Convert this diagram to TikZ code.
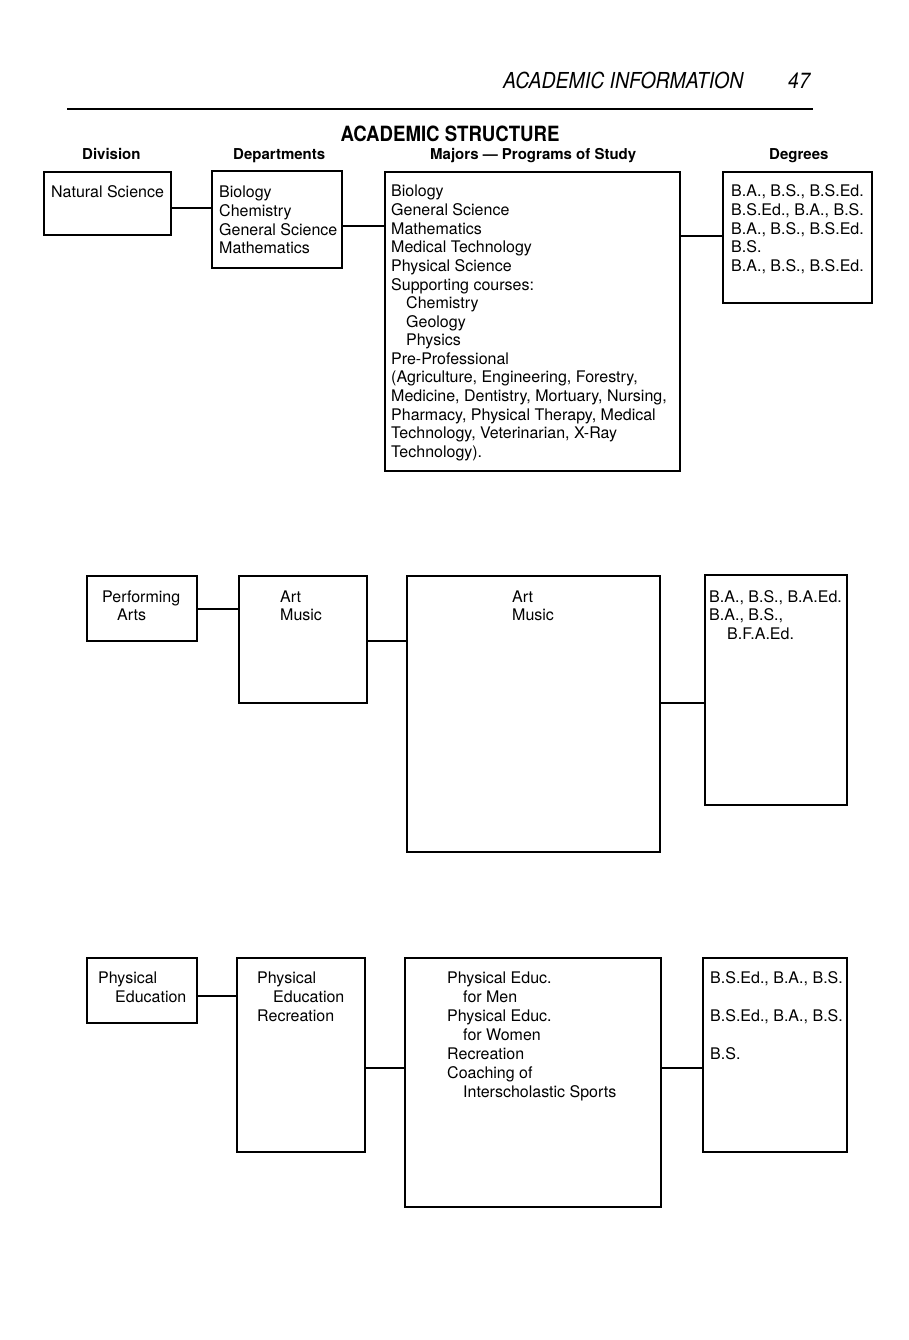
\documentclass[tikz,border=0pt]{standalone}
\usepackage{fontspec}
\setmainfont{TeX Gyre Heros}
\newfontfamily\hdrfont[FakeStretch=0.885]{TeX Gyre Heros}
\newfontfamily\ttlfont[FakeStretch=0.887]{TeX Gyre Heros}
\newcommand\stk[2]{\vtop{\baselineskip=#1pt\lineskip=0pt\lineskiplimit=-20pt\halign{##\hfil\cr#2\crcr}}}
\begin{document}
\begin{tikzpicture}[x=1pt,y=-1pt,
  box/.style={draw, line width=2.2pt, inner sep=0pt, outer sep=0pt, anchor=north west},
  conn/.style={line width=2.2pt},
  txt/.style={anchor=base west, inner sep=0pt, font=\fontsize{16}{18.6}\selectfont},
  sub/.style={anchor=base west, inner sep=0pt, font=\fontsize{15}{18}\selectfont\bfseries}]
\fill[white] (0,0) rectangle (908,1340);
\useasboundingbox (0,0) rectangle (908,1340);

% page header
\node[anchor=base west, inner sep=0pt, font=\hdrfont\itshape\fontsize{22}{26}\selectfont] (hdr) at (503,89) {ACADEMIC INFORMATION};
\node[anchor=base west, inner sep=0pt, font=\hdrfont\itshape\fontsize{22}{26}\selectfont] (pg) at (788,89) {47};
\coordinate (rl) at (67,109);
\coordinate (rr) at (813,109);
\draw[line width=1.5pt] (rl) -- (rr);

% titles
\node[anchor=base, inner sep=0pt, font=\ttlfont\bfseries\fontsize{21}{24}\selectfont] (title) at (450,142) {ACADEMIC STRUCTURE};
\node[sub] (hdiv) at (82,160) {Division};
\node[sub] (hdep) at (233,160) {Departments};
\node[sub] (hmaj) at (430,160) {Majors — Programs of Study};
\node[sub] (hdeg) at (769,160) {Degrees};

% row 1 boxes
\node[box, minimum width=127pt, minimum height=63pt] (ns) at (44,172) {};
\node[box, minimum width=130pt, minimum height=97pt] (d1) at (212,171) {};
\node[box, minimum width=295pt, minimum height=299pt] (m1) at (385,172) {};
\node[box, minimum width=149pt, minimum height=131pt] (g1) at (723,172) {};

% row 2 boxes
\node[box, minimum width=110pt, minimum height=65pt] (pa) at (87,576) {};
\node[box, minimum width=128pt, minimum height=127pt] (d2) at (239,576) {};
\node[box, minimum width=253pt, minimum height=276pt] (m2) at (407,576) {};
\node[box, minimum width=142pt, minimum height=230pt] (g2) at (705,575) {};

% row 3 boxes
\node[box, minimum width=110pt, minimum height=65pt] (pe) at (87,958) {};
\node[box, minimum width=128pt, minimum height=194pt] (d3) at (237,958) {};
\node[box, minimum width=256pt, minimum height=249pt] (m3) at (405,958) {};
\node[box, minimum width=144pt, minimum height=194pt] (g3) at (703,958) {};

% row 1 texts
\node[txt] (tns) at (51,198) {Natural Science};
\node[txt] (td1) at (219,198) {\stk{18.6}{Biology\cr Chemistry\cr General Science\cr Mathematics}};
\node[txt] (tm1) at (391,197) {\stk{18.6}{Biology\cr General Science\cr Mathematics\cr Medical Technology\cr Physical Science\cr Supporting courses:\cr\hskip15pt Chemistry\cr\hskip15pt Geology\cr\hskip15pt Physics\cr Pre-Professional\cr (Agriculture, Engineering, Forestry,\cr Medicine, Dentistry, Mortuary, Nursing,\cr Pharmacy, Physical Therapy, Medical\cr Technology, Veterinarian, X-Ray\cr Technology).}};
\node[txt] (tg1) at (731,197) {\stk{18.6}{B.A., B.S., B.S.Ed.\cr B.S.Ed., B.A., B.S.\cr B.A., B.S., B.S.Ed.\cr B.S.\cr B.A., B.S., B.S.Ed.}};

% row 2 texts
\node[txt] (tpa) at (102,602) {\stk{18.5}{Performing\cr\hskip15pt Arts}};
\node[txt] (td2) at (280,602) {\stk{18.5}{Art\cr Music}};
\node[txt] (tm2) at (512,602) {\stk{18.5}{Art\cr Music}};
\node[txt] (tg2) at (709,602) {\stk{18.5}{B.A., B.S., B.A.Ed.\cr B.A., B.S.,\cr\hskip18pt B.F.A.Ed.}};

% row 3 texts
\node[txt] (tpe) at (98,983) {\stk{19}{Physical\cr\hskip17pt Education}};
\node[txt] (td3) at (257,983) {\stk{19}{Physical\cr\hskip16pt Education\cr Recreation}};
\node[txt] (tm3) at (447,983) {\stk{19}{Physical Educ.\cr\hskip16pt for Men\cr Physical Educ.\cr\hskip16pt for Women\cr Recreation\cr Coaching of\cr\hskip16pt Interscholastic Sports}};
\node[txt] (tg3) at (710,983) {\stk{19}{B.S.Ed., B.A., B.S.\cr\cr B.S.Ed., B.A., B.S.\cr\cr B.S.}};

% connector heights
\coordinate (c1a) at (0,208);
\coordinate (c1b) at (0,226);
\coordinate (c1c) at (0,236);
\coordinate (c2a) at (0,609);
\coordinate (c2b) at (0,641);
\coordinate (c2c) at (0,703);
\coordinate (c3a) at (0,996);
\coordinate (c3b) at (0,1068);
\coordinate (c3c) at (0,1068);

\draw[conn] (ns.east |- c1a) -- (d1.west |- c1a);
\draw[conn] (d1.east |- c1b) -- (m1.west |- c1b);
\draw[conn] (m1.east |- c1c) -- (g1.west |- c1c);
\draw[conn] (pa.east |- c2a) -- (d2.west |- c2a);
\draw[conn] (d2.east |- c2b) -- (m2.west |- c2b);
\draw[conn] (m2.east |- c2c) -- (g2.west |- c2c);
\draw[conn] (pe.east |- c3a) -- (d3.west |- c3a);
\draw[conn] (d3.east |- c3b) -- (m3.west |- c3b);
\draw[conn] (m3.east |- c3c) -- (g3.west |- c3c);
\end{tikzpicture}
\end{document}
